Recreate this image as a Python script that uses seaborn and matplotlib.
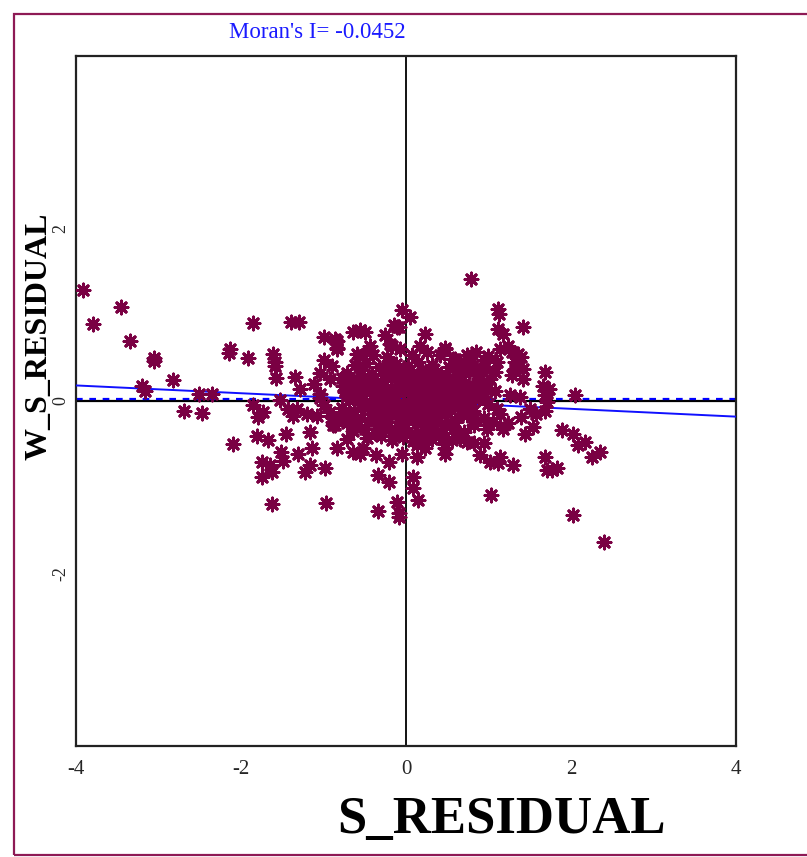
import matplotlib
matplotlib.use("Agg")
import matplotlib.pyplot as plt
import matplotlib.patches as mpatches
import numpy as np
import pandas as pd
import seaborn as sns

# Moran scatterplot: standardized residual vs. its spatial lag
moran_i = -0.0452
lag_zero_offset = 0.02

x_ticks = [-4, -2, 0, 2, 4]
y_ticks = [-2, 0, 2]

# outer points (readable individually)
s_resid_outer = [
    -3.92, -3.80, -3.45, -3.35, -3.06, -3.06, -3.20, -3.16, -2.82, -2.69, -2.51, -2.35, -2.47,
    -2.13, -2.14, -1.92, -2.10, -1.85, -1.39, -1.30, -1.61, -1.59, -1.59, -1.57, -1.35, -1.28,
    -1.12, -1.00, -0.86, -0.84, -1.00, -0.90, -1.04, -0.92, -0.84, -0.84,
    -1.85, -1.79, -1.73, -1.53, -1.43, -1.32, -1.37, -1.81, -1.67, -1.45, -1.51, -1.49, -1.75,
    -1.65, -1.63, -1.75, -1.31, -1.16, -1.14, -1.16, -1.22, -0.98, -1.63, -0.97, -1.20, -1.08,
    -0.84, -0.72, -0.64, -0.56, -0.86, -0.76, -0.34, -0.21, -0.34, -0.11, -0.09,
    -0.60, -0.52, -0.64, -0.56, -0.50, -0.25, -0.17, -0.11, -0.44, -0.40, -0.23, -0.21, -0.76,
    -0.64, -0.72, -0.60, -1.04, -1.00, -0.92, -0.88, -0.88, -1.04, -0.88,
    -0.05, 0.05, -0.09, -0.15, 0.23, -0.44, -0.19, -0.07, 0.17, 0.25, 0.07, 0.47, 0.41, 0.59,
    0.74, 0.78,
    -0.52, -0.36, -0.21, 0.09, 0.09, 0.15, -0.05, 0.13, 0.23, 0.47, 0.47, 0.13, -0.09,
    0.79, 1.12, 1.13, 1.42, 1.12, 1.18, 1.14, 1.24, 1.28, 1.36, 1.40, 1.32, 1.32, 1.42, 1.28,
    1.42, 1.68, 1.66, 1.73, 1.68, 1.71, 1.68, 2.05, 1.26, 1.38, 1.08, 1.10, 1.14, 1.50, 1.58,
    1.40, 1.54, 1.44, 1.24, 1.18, 1.89, 2.03, 2.09, 2.17, 2.25, 2.35, 1.68, 1.71, 1.77, 1.83,
    1.30, 1.03, 2.03, 2.40, 1.14, 1.02, 1.12, 0.90, 0.82, 0.94, 0.74, 0.65, 0.47, 0.78, 0.94,
    0.92, 0.57, 0.47, 1.10, 1.08, 1.02, 0.98, 0.86, 0.82, 0.74, 0.94, 0.98, 0.82, 1.06,
]
w_s_resid_outer = [
    1.29, 0.89, 1.09, 0.70, 0.50, 0.46, 0.18, 0.12, 0.24, -0.12, 0.08, 0.08, -0.14,
    0.60, 0.56, 0.50, -0.50, 0.91, 0.92, 0.92, 0.55, 0.45, 0.41, 0.27, 0.28, 0.14,
    0.20, 0.74, 0.72, 0.60, 0.47, 0.41, 0.32, 0.26, 0.70, 0.62,
    -0.05, -0.18, -0.13, 0.01, -0.09, -0.09, -0.17, -0.40, -0.45, -0.38, -0.59, -0.69, -0.71,
    -0.74, -0.82, -0.88, -0.61, -0.36, -0.55, -0.74, -0.82, -0.78, -1.19, -1.18, -0.15, -0.17,
    -0.55, -0.44, -0.59, -0.61, -0.28, -0.18, -0.86, -0.94, -1.28, -1.17, -1.30,
    0.55, 0.53, 0.80, 0.82, 0.80, 0.76, 0.64, 0.86, 0.64, 0.53, 0.51, 0.43, 0.18,
    0.22, 0.07, 0.03, 0.03, -0.05, -0.13, -0.20, -0.28, 0.08, -0.24,
    1.06, 0.97, 0.86, 0.88, 0.78, 0.57, 0.66, 0.60, 0.64, 0.57, 0.53, 0.62, 0.53, 0.49,
    0.53, 0.45,
    -0.55, -0.63, -0.71, -0.88, -1.01, -1.15, -0.61, -0.65, -0.55, -0.55, -0.50, -0.51, -1.34,
    1.41, 1.07, 1.01, 0.86, 0.84, 0.78, 0.60, 0.64, 0.57, 0.55, 0.51, 0.45, 0.37, 0.37, 0.30,
    0.26, 0.34, 0.18, 0.14, 0.07, -0.01, -0.11, 0.07, 0.07, 0.05, 0.12, -0.09, -0.15, -0.09, -0.15,
    -0.18, -0.30, -0.38, -0.26, -0.32, -0.34, -0.38, -0.51, -0.47, -0.65, -0.59, -0.65, -0.80, -0.80, -0.78,
    -0.74, -1.09, -1.32, -1.63, -0.65, -0.71, -0.72, -0.63, -0.49, -0.49, -0.47, -0.44, -0.61, 0.51, 0.47,
    0.37, 0.49, 0.60, 0.45, 0.34, 0.26, 0.14, 0.30, 0.18, 0.07, -0.20, -0.32, -0.28, -0.24,
]

# dense central cluster
s_resid_core = [
    -0.62, -0.48, -0.33, -0.12, 0.02, 0.14, 0.31, 0.52, 0.66,
    -0.71, -0.55, -0.41, -0.27, -0.16, -0.04, 0.08, 0.19, 0.27, 0.38, 0.49, 0.61, 0.72,
    -0.78, -0.58, -0.46, -0.35, -0.23, -0.09, 0.03, 0.12, 0.22, 0.33, 0.43, 0.55, 0.64, 0.87,
    -0.67, -0.53, -0.39, -0.30, -0.18, -0.07, 0.05, 0.15, 0.26, 0.36, 0.46, 0.58, 0.68, 0.92,
    -0.74, -0.61, -0.49, -0.37, -0.25, -0.13, -0.02, 0.10, 0.20, 0.30, 0.40, 0.51, 0.62, 0.79,
    -0.69, -0.56, -0.44, -0.32, -0.20, -0.08, 0.07, 0.17, 0.28, 0.37, 0.48, 0.59, 0.71, 0.88,
    -0.77, -0.63, -0.51, -0.40, -0.28, -0.15, -0.03, 0.09, 0.21, 0.32, 0.44, 0.55, 0.67, 0.81,
    -0.66, -0.54, -0.42, -0.31, -0.19, -0.06, 0.04, 0.16, 0.27, 0.39, 0.50, 0.63, 0.74,
    -0.72, -0.58, -0.46, -0.34, -0.22, -0.10, 0.02, 0.13, 0.24, 0.35, 0.47, 0.60,
    -0.64, -0.50, -0.38, -0.26, -0.13, -0.01, 0.11, 0.22, 0.34, 0.45, 0.57, 0.70,
    -0.47, -0.30, -0.17, -0.04, 0.08, 0.19, 0.31, 0.40, 0.56,
    -0.35, -0.11, 0.01, 0.12, 0.24, 0.35, -0.22, 0.18, -0.05, 0.29, 0.41, -0.29, 0.06, 0.15,
    -0.16, 0.26, 0.53, -0.42, 0.33, -0.09, 0.45, 0.19, -0.26, 0.61, 0.70, 0.76, 0.85, 0.83,
    0.95, 0.99, 0.62, 0.70, 0.80, 0.88, 0.96, 1.00, 0.85,
]
w_s_resid_core = [
    0.42, 0.44, 0.40, 0.43, 0.41, 0.45, 0.42, 0.40, 0.44,
    0.33, 0.36, 0.31, 0.37, 0.32, 0.35, 0.30, 0.36, 0.31, 0.34, 0.30, 0.35, 0.32,
    0.27, 0.24, 0.28, 0.22, 0.27, 0.23, 0.28, 0.24, 0.26, 0.22, 0.27, 0.23, 0.26, 0.22,
    0.16, 0.19, 0.14, 0.18, 0.15, 0.19, 0.14, 0.18, 0.16, 0.19, 0.15, 0.18, 0.14, 0.17,
    0.10, 0.07, 0.11, 0.08, 0.12, 0.06, 0.10, 0.07, 0.11, 0.06, 0.10, 0.08, 0.12, 0.09,
    0.01, 0.03, -0.01, 0.02, 0.04, -0.02, 0.02, -0.01, 0.03, -0.02, 0.01, 0.04, -0.01, 0.02,
    -0.08, -0.11, -0.06, -0.10, -0.07, -0.12, -0.05, -0.09, -0.06, -0.11, -0.07, -0.10, -0.06, -0.11,
    -0.17, -0.20, -0.15, -0.19, -0.14, -0.18, -0.15, -0.20, -0.16, -0.19, -0.14, -0.18, -0.16,
    -0.25, -0.28, -0.23, -0.27, -0.24, -0.29, -0.22, -0.26, -0.29, -0.23, -0.27, -0.24,
    -0.35, -0.32, -0.37, -0.33, -0.36, -0.31, -0.38, -0.34, -0.32, -0.37, -0.33, -0.36,
    -0.43, -0.41, -0.45, -0.42, -0.46, -0.41, -0.44, -0.40, -0.45,
    0.05, 0.14, 0.20, -0.03, 0.09, 0.13, -0.02, 0.31, 0.27, -0.08, 0.03, -0.13, -0.12, 0.05,
    0.08, 0.21, -0.02, 0.20, 0.37, -0.24, 0.21, -0.17, 0.30, 0.00, 0.20, -0.05, 0.13, -0.20,
    0.05, -0.04, 0.30, 0.38, 0.40, 0.33, 0.40, 0.52, 0.57,
]

df = pd.DataFrame({
    "S_RESIDUAL": s_resid_outer + s_resid_core,
    "W_S_RESIDUAL": w_s_resid_outer + w_s_resid_core,
})

sns.set_style("white")
plt.rcParams["font.family"] = ["Liberation Serif", "DejaVu Serif"]

fig = plt.figure(figsize=(8.07, 8.57), dpi=100)
ax = fig.add_axes([0.0942, 0.1295, 0.8178, 0.8051])

point_color = "#7a0043"
sns.scatterplot(data=df, x="S_RESIDUAL", y="W_S_RESIDUAL", ax=ax,
                marker=(8, 2, 0), s=85, color=point_color,
                linewidth=2.2, edgecolor=point_color, zorder=3, legend=False)

# quadrant axes
ax.axvline(0, color="black", lw=1.3, zorder=2)
ax.axhline(0, color="black", lw=1.6, zorder=2)
ax.axhline(lag_zero_offset, color="#0000ff", lw=1.6, ls=(0, (3, 3)), zorder=2.5)

# regression line with slope equal to Moran's I
xs = np.array([-4.0, 4.0])
ax.plot(xs, moran_i * xs, color="#1010ff", lw=1.4, zorder=2.6)

ax.set_xlim(-4, 4)
ax.set_ylim(-4, 4)
ax.set_xticks(x_ticks)
ax.set_yticks(y_ticks)
ax.set_xticklabels([f"{t:g}" for t in x_ticks], fontsize=15)
ax.set_yticklabels([f"{t:g}" for t in y_ticks], fontsize=13, rotation=90, va="center")
ax.tick_params(axis="x", direction="out", length=6, width=1.3, color="black", pad=4)
ax.tick_params(axis="y", direction="out", length=3, width=1.3, color="black", pad=2)
for sp in ax.spines.values():
    sp.set_color("#222222")
    sp.set_linewidth(1.6)
ax.set_xlabel("")
ax.set_ylabel("")

fig.text(0.621, 0.028, "S_RESIDUAL", fontsize=38, fontweight="bold",
         ha="center", va="baseline", color="black")
fig.text(0.048, 0.608, "W_S_RESIDUAL", fontsize=23, fontweight="bold",
         ha="center", va="center", rotation=90, color="black")
fig.text(0.393, 0.9615, f"Moran's I= {moran_i:.4f}", fontsize=16.5,
         ha="center", va="center", color="#1a1aff")

# frame around the whole figure
fig.patches.append(mpatches.Rectangle((14 / 807, 2 / 857), 1.2, 1 - 16 / 857,
                                      transform=fig.transFigure, fill=False,
                                      edgecolor="#8e1a55", linewidth=1.6, zorder=10))

fig.savefig("out.png", dpi=100)
